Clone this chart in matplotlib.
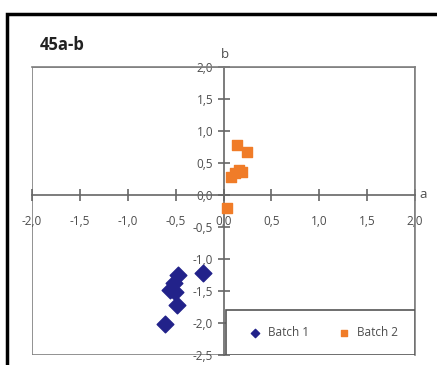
import matplotlib
matplotlib.use('Agg')
import matplotlib.pyplot as plt
from matplotlib.patches import Rectangle

## values (a, b) for each batch
batch1_a = [-0.47, -0.21, -0.56, -0.51, -0.52, -0.49, -0.61]
batch1_b = [-1.25, -1.22, -1.48, -1.51, -1.38, -1.72, -2.02]
batch2_a = [0.14, 0.25, 0.16, 0.12, 0.08, 0.04, 0.19]
batch2_b = [0.78, 0.67, 0.39, 0.34, 0.28, -0.20, 0.36]
xticks = [-2.0, -1.5, -1.0, -0.5, 0.0, 0.5, 1.0, 1.5, 2.0]
yticks = [-2.5, -2.0, -1.5, -1.0, -0.5, 0.0, 0.5, 1.0, 1.5, 2.0]

plt.rcParams['font.family'] = ['Open Sans', 'DejaVu Sans']
W, H = 437, 365
fig = plt.figure(figsize=(W / 100, H / 100), dpi=100)

## outer black frame, runs off the right and bottom edge
fig.patches.append(Rectangle((7 / W, -0.1), 1.2, 1 - 14 / H + 0.1, transform=fig.transFigure,
                             fill=False, edgecolor='black', linewidth=2.5))
fig.text(40 / W, 1 - 45 / H, '45a-b', fontsize=12, fontweight='bold', color='#222222', va='center')

ax = fig.add_axes([32 / W, (H - 355) / H, 383 / W, 288 / H])
ax.set_xlim(-2.0, 2.0)
ax.set_ylim(-2.5, 2.0)
ax.patch.set_alpha(0)

gray = '#7f7f7f'
txt = '#4d4d4d'
for s in ['top', 'right']:
    ax.spines[s].set_color(gray)
    ax.spines[s].set_linewidth(1.2)
ax.spines['left'].set_position(('data', 0))
ax.spines['bottom'].set_position(('data', 0))
for s in ['left', 'bottom']:
    ax.spines[s].set_color('#666666')
    ax.spines[s].set_linewidth(1.2)
## box around plot area (left and bottom edges, spines moved to zero)
ax.add_patch(Rectangle((0, 0), 1, 1, transform=ax.transAxes, fill=False,
                       edgecolor=gray, linewidth=1.2, zorder=0))

ax.set_xticks(xticks)
ax.set_yticks(yticks)
ax.set_xticklabels([('%.1f' % v).replace('.', ',') for v in xticks])
ax.set_yticklabels([('%.1f' % v).replace('.', ',') for v in yticks])
ax.tick_params(axis='x', direction='inout', length=9, width=1.2, color='#666666',
               labelsize=8.5, labelcolor=txt, pad=10)
ax.tick_params(axis='y', direction='inout', length=9, width=1.2, color='#666666',
               labelsize=8.5, labelcolor=txt, pad=3)

ax.scatter(batch1_a, batch1_b, marker='D', s=72, color='#22228a', zorder=3, label='Batch 1')
ax.scatter(batch2_a, batch2_b, marker='s', s=55, color='#f07c28', zorder=3, label='Batch 2')

ax.text(2.05, 0.0, 'a', fontsize=9.5, color=txt, va='center', ha='left')
ax.text(0.02, 2.1, 'b', fontsize=9.5, color=txt, va='bottom', ha='center')

## legend box in the lower right corner
ax.add_patch(Rectangle((0.03, -2.5), 1.97, 0.7, fill=True, facecolor='white',
                       edgecolor='#555555', linewidth=1.2, zorder=4))
leg = ax.legend(loc='center', bbox_to_anchor=(1.015, -2.15), bbox_transform=ax.transData,
                ncol=2, frameon=False, fontsize=8.5, handletextpad=0.05, columnspacing=2.0,
                markerscale=0.5)
leg.set_zorder(5)
for t in leg.get_texts():
    t.set_color(txt)

fig.savefig('out.png', dpi=100)
